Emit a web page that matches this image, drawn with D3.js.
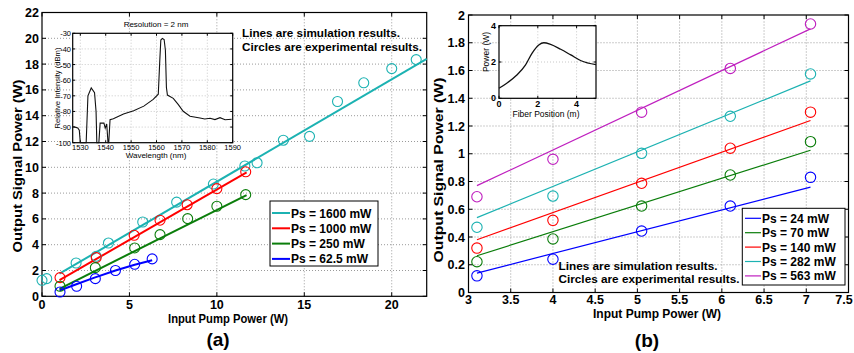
<!DOCTYPE html>
<html>
<head>
<meta charset="utf-8">
<script src="https://cdn.jsdelivr.net/npm/d3@7"></script>
<style>
  body { margin: 0; background: #fff; }
  svg { font-family: "Liberation Sans", Arial, sans-serif; }
</style>
</head>
<body>
<svg id="chart" width="854" height="353"></svg>
<script>
// ---------- panel (a) data ----------
const aXTicks = [0, 5, 10, 15, 20];
const aYTicks = [0, 2, 4, 6, 8, 10, 12, 14, 16, 18, 20, 22];
const aNames = ["Ps = 1600 mW", "Ps = 1000 mW", "Ps = 250 mW", "Ps = 62.5 mW"];

const aSim1600X = [1, 22],   aSim1600Y = [1.75, 18.4];
const aSim1000X = [1, 11.7], aSim1000Y = [1.25, 9.6];
const aSim250X  = [1, 11.7], aSim250Y  = [0.58, 7.85];
const aSim62X   = [1, 2, 3, 4.2, 5.3, 6.3];
const aSim62Y   = [0.45, 0.95, 1.45, 2.0, 2.45, 2.8];

const aExp1600X = [0.0, 0.27, 1.95, 3.1, 3.8, 5.76, 7.7, 9.8, 11.6, 12.3, 13.8, 15.3, 16.9, 18.4, 20.0, 21.4];
const aExp1600Y = [1.24, 1.37, 2.58, 3.1, 4.13, 5.76, 7.3, 8.7, 10.1, 10.35, 12.1, 12.4, 15.1, 16.55, 17.65, 18.35];
const aExp1000X = [1.03, 3.1, 5.27, 6.75, 8.3, 10.0, 11.65];
const aExp1000Y = [1.45, 3.0, 4.73, 5.9, 7.1, 8.35, 9.65];
const aExp250X  = [1.03, 3.05, 5.3, 6.75, 8.33, 10.0, 11.65];
const aExp250Y  = [0.78, 2.22, 3.75, 4.78, 6.02, 6.98, 7.88];
const aExp62X   = [1.03, 1.98, 3.05, 4.2, 5.3, 6.3];
const aExp62Y   = [0.33, 0.78, 1.37, 2.0, 2.48, 2.9];

// inset (a): spectrum
const specTicksX = [1530, 1540, 1550, 1560, 1570, 1580, 1590];
const specTicksY = [-100, -90, -80, -70, -60, -50, -40, -30];
const specWl = [1527.2, 1529.0, 1529.6, 1530.0, 1532.3, 1533.0, 1534.3, 1535.6, 1536.2, 1536.5,
  1537.3, 1537.8, 1539.3, 1539.8, 1540.4, 1540.9, 1541.2, 1541.7, 1543, 1547, 1551, 1555,
  1558.7, 1560.7, 1561.3, 1561.7, 1562.3, 1563.0, 1563.5, 1563.9, 1564.3, 1566.6, 1568.6,
  1570.5, 1573.2, 1577.1, 1579, 1581.1, 1583, 1585, 1587, 1589.6];
const specDb = [-89.7, -90.5, -92, -100, -100, -70, -65, -68, -80, -100,
  -100, -87.5, -87.5, -90.7, -88, -100, -100, -85.3, -84.7, -81.6, -79.5, -76.6,
  -72.3, -69, -47, -34.3, -33.3, -34, -40.8, -64.7, -69.5, -71.6, -75.6,
  -79.9, -83.1, -84.2, -84.8, -84.4, -85.2, -84, -85.3, -85];

// ---------- panel (b) data ----------
const bXTicks = [3, 3.5, 4, 4.5, 5, 5.5, 6, 6.5, 7, 7.5];
const bYTicks = [0, 0.2, 0.4, 0.6, 0.8, 1, 1.2, 1.4, 1.6, 1.8, 2];
const bNames = ["Ps = 24 mW", "Ps = 70 mW", "Ps = 140 mW", "Ps = 282 mW", "Ps = 563 mW"];
const bPump = [3.1, 4.0, 5.05, 6.1, 7.05];
const bSimX = [3.1, 7.05];
const bSim24 = [0.14, 0.76], bSim70 = [0.265, 1.025], bSim140 = [0.38, 1.24];
const bSim282 = [0.54, 1.525], bSim563 = [0.77, 1.9];
const bExp24  = [0.12, 0.24, 0.443, 0.623, 0.83];
const bExp70  = [0.222, 0.386, 0.623, 0.847, 1.087];
const bExp140 = [0.32, 0.52, 0.787, 1.04, 1.30];
const bExp282 = [0.47, 0.695, 1.003, 1.27, 1.575];
const bExp563 = [0.69, 0.96, 1.30, 1.615, 1.935];

// inset (b): power along fiber
const fibTicks = [0, 2, 4];
const fibPos = [0, 0.4, 0.92, 1.36, 1.7, 2.05, 2.31, 2.66, 3.18, 3.7, 4.23, 5.0];
const fibPow = [0.55, 0.83, 1.28, 1.83, 2.48, 2.94, 3.06, 2.97, 2.7, 2.39, 2.07, 1.85];

// ---------- helpers ----------
const svg = d3.select("#chart");
const zip = (xs, ys) => xs.map((x, i) => [x, ys[i]]);

function frame(g, x, y, xt, yt, tickLen, gridColor) {
  const [x0, x1] = x.range(), [y0, y1] = y.range();
  if (gridColor) {
    g.selectAll(".gx").data(xt.filter(v => x(v) > x0 + 1 && x(v) < x1 - 1)).join("line")
      .attr("x1", d => x(d)).attr("x2", d => x(d)).attr("y1", y0).attr("y2", y1)
      .attr("stroke", gridColor).attr("stroke-width", 1).attr("stroke-dasharray", "1,2");
    g.selectAll(".gy").data(yt.filter(v => y(v) < y0 - 1 && y(v) > y1 + 1)).join("line")
      .attr("x1", x0).attr("x2", x1).attr("y1", d => y(d)).attr("y2", d => y(d))
      .attr("stroke", gridColor).attr("stroke-width", 1).attr("stroke-dasharray", "1,2");
  }
  const t = g.append("g").attr("stroke", "#000").attr("stroke-width", 1);
  xt.forEach(v => {
    t.append("line").attr("x1", x(v)).attr("x2", x(v)).attr("y1", y0).attr("y2", y0 - tickLen);
    t.append("line").attr("x1", x(v)).attr("x2", x(v)).attr("y1", y1).attr("y2", y1 + tickLen);
  });
  yt.forEach(v => {
    t.append("line").attr("x1", x0).attr("x2", x0 + tickLen).attr("y1", y(v)).attr("y2", y(v));
    t.append("line").attr("x1", x1).attr("x2", x1 - tickLen).attr("y1", y(v)).attr("y2", y(v));
  });
  g.append("rect").attr("x", x0).attr("y", y1).attr("width", x1 - x0).attr("height", y0 - y1)
    .attr("fill", "none").attr("stroke", "#000").attr("stroke-width", 1.2);
}

function lineOf(x, y) {
  return d3.line().x(d => x(d[0])).y(d => y(d[1]));
}

function circles(g, x, y, pts, color, r) {
  g.append("g").selectAll("circle").data(pts).join("circle")
    .attr("cx", d => x(d[0])).attr("cy", d => y(d[1])).attr("r", r)
    .attr("fill", "none").attr("stroke", color).attr("stroke-width", 1.1);
}

function text(g, str, x, y, opts) {
  const t = g.append("text").attr("x", x).attr("y", y).text(str)
    .attr("font-size", opts.size).attr("font-weight", opts.weight || "normal")
    .attr("text-anchor", opts.anchor || "start").attr("fill", "#000");
  if (opts.len) t.attr("textLength", opts.len).attr("lengthAdjust", "spacingAndGlyphs");
  if (opts.rotate) t.attr("transform", `rotate(-90,${x},${y})`);
  return t;
}

const cCyan = "#1cb2b2", cRed = "#ff0000", cGreen = "#0a7d0a", cBlue = "#0000ff", cMag = "#bf1fbf";

// ---------- panel (a) ----------
{
  const g = svg.append("g");
  const x = d3.scaleLinear().domain([0, 22]).range([42, 426.7]);
  const y = d3.scaleLinear().domain([0, 22]).range([296.3, 12.5]);
  frame(g, x, y, aXTicks, aYTicks, 4, "#9a9a9a");

  aXTicks.forEach(v => text(g, v, x(v), 308.5, { size: 12.5, weight: "bold", anchor: "middle" }));
  aYTicks.forEach(v => text(g, v, 39, y(v) + 4.5, { size: 12.5, weight: "bold", anchor: "end" }));
  text(g, "Input Pump Power (W)", 228, 323, { size: 12.5, weight: "bold", anchor: "middle", len: 120 });
  text(g, "Output Signal Power (W)", 22, 166, { size: 13, weight: "bold", anchor: "middle", len: 173, rotate: true });
  text(g, "(a)", 218, 346, { size: 19, weight: "bold", anchor: "middle" });

  const L = lineOf(x, y);
  const sims = [[aSim1600X, aSim1600Y, cCyan], [aSim1000X, aSim1000Y, cRed],
                [aSim250X, aSim250Y, cGreen], [aSim62X, aSim62Y, cBlue]];
  sims.forEach(([xs, ys, c]) => g.append("path").attr("d", L(zip(xs, ys)))
    .attr("fill", "none").attr("stroke", c).attr("stroke-width", 2));
  circles(g, x, y, zip(aExp1600X, aExp1600Y), cCyan, 5);
  circles(g, x, y, zip(aExp1000X, aExp1000Y), cRed, 5);
  circles(g, x, y, zip(aExp250X, aExp250Y), cGreen, 5);
  circles(g, x, y, zip(aExp62X, aExp62Y), cBlue, 5);

  text(g, "Lines are simulation results.", 242, 37.3, { size: 11.7, weight: "bold", len: 158 });
  text(g, "Circles are experimental results.", 242, 50.5, { size: 11.7, weight: "bold", len: 180 });

  // legend
  const lg = g.append("g");
  lg.append("rect").attr("x", 270).attr("y", 201).attr("width", 108).attr("height", 65)
    .attr("fill", "#fff").attr("stroke", "#000").attr("stroke-width", 1);
  const colorsA = [cCyan, cRed, cGreen, cBlue];
  aNames.forEach((n, i) => {
    const yy = 213 + i * 15.3;
    lg.append("line").attr("x1", 272).attr("x2", 290).attr("y1", yy).attr("y2", yy)
      .attr("stroke", colorsA[i]).attr("stroke-width", 2);
    text(lg, n, 291, yy + 4.5, { size: 12, weight: "bold" });
  });

  // inset: spectrum
  const ig = g.append("g");
  const ix = d3.scaleLinear().domain([1527, 1590]).range([72.7, 232.7]);
  const iy = d3.scaleLinear().domain([-100, -30]).range([142.7, 33.3]);
  ig.append("rect").attr("x", 72.7).attr("y", 33.3).attr("width", 160).attr("height", 109.4).attr("fill", "#fff");
  frame(ig, ix, iy, specTicksX, specTicksY, 2.5, "#c8c8c8");
  ig.append("path").attr("d", lineOf(ix, iy)(zip(specWl, specDb)))
    .attr("fill", "none").attr("stroke", "#111").attr("stroke-width", 1.1);
  specTicksX.forEach(v => text(ig, v, ix(v), 150, { size: 7.5, anchor: "middle" }));
  specTicksY.forEach(v => text(ig, v, 71, iy(v) + 3, { size: 7.5, anchor: "end" }));
  text(ig, "Resolution = 2 nm", 156, 27, { size: 8, anchor: "middle" });
  text(ig, "Wavelength (nm)", 156, 158, { size: 8, anchor: "middle" });
  text(ig, "Relative Intensity (dBm)", 60, 88, { size: 7.5, anchor: "middle", len: 81, rotate: true });
}

// ---------- panel (b) ----------
{
  const g = svg.append("g");
  const x = d3.scaleLinear().domain([3, 7.5]).range([468.5, 848.5]);
  const y = d3.scaleLinear().domain([0, 2]).range([292.5, 15]);
  frame(g, x, y, bXTicks, bYTicks, 4, "#9a9a9a");

  bXTicks.forEach(v => text(g, v, Math.min(x(v), 844), 304, { size: 12.5, weight: "bold", anchor: "middle" }));
  bYTicks.forEach(v => text(g, v, 465, y(v) + 4.5, { size: 12.5, weight: "bold", anchor: "end" }));
  text(g, "Input Pump Power (W)", 657, 318, { size: 13, weight: "bold", anchor: "middle", len: 128 });
  text(g, "Output Signal Power (W)", 443, 170, { size: 13, weight: "bold", anchor: "middle", len: 185, rotate: true });
  text(g, "(b)", 647, 347, { size: 19, weight: "bold", anchor: "middle" });

  const L = lineOf(x, y);
  const series = [[bSim24, bExp24, cBlue], [bSim70, bExp70, cGreen], [bSim140, bExp140, cRed],
                  [bSim282, bExp282, cCyan], [bSim563, bExp563, cMag]];
  series.forEach(([sim, exp, c]) => {
    g.append("path").attr("d", L(zip(bSimX, sim)))
      .attr("fill", "none").attr("stroke", c).attr("stroke-width", 1.2);
    circles(g, x, y, zip(bPump, exp), c, 5.2);
  });

  text(g, "Lines are simulation results.", 558.5, 269.5, { size: 11.7, weight: "bold", len: 159 });
  text(g, "Circles are experimental results.", 558.5, 283, { size: 11.7, weight: "bold", len: 181 });

  const lg = g.append("g");
  lg.append("rect").attr("x", 742.3).attr("y", 208.3).attr("width", 102.7).attr("height", 76.7)
    .attr("fill", "#fff").attr("stroke", "#000").attr("stroke-width", 1);
  bNames.forEach((n, i) => {
    const yy = 218.3 + i * 14.4;
    lg.append("line").attr("x1", 745).attr("x2", 761).attr("y1", yy).attr("y2", yy)
      .attr("stroke", series[i][2]).attr("stroke-width", 1.2);
    text(lg, n, 762, yy + 4.5, { size: 12, weight: "bold" });
  });

  // inset: power along fiber
  const ig = g.append("g");
  const ix = d3.scaleLinear().domain([0, 5]).range([499, 596]);
  const iy = d3.scaleLinear().domain([0, 4]).range([98.3, 25.7]);
  ig.append("rect").attr("x", 499).attr("y", 25.7).attr("width", 97).attr("height", 72.6).attr("fill", "#fff");
  frame(ig, ix, iy, fibTicks, fibTicks, 2.5, "#c8c8c8");
  ig.append("path").attr("d", lineOf(ix, iy).curve(d3.curveMonotoneX)(zip(fibPos, fibPow)))
    .attr("fill", "none").attr("stroke", "#111").attr("stroke-width", 1.3);
  fibTicks.forEach(v => text(ig, v, ix(v), 107, { size: 9, weight: "bold", anchor: "middle" }));
  fibTicks.forEach(v => text(ig, v, 496, iy(v) + 3, { size: 9, weight: "bold", anchor: "end" }));
  text(ig, "Fiber Position (m)", 546, 116.5, { size: 8.5, anchor: "middle" });
  text(ig, "Power (W)", 489, 52, { size: 8.5, anchor: "middle", rotate: true });
}
</script>
</body>
</html>
